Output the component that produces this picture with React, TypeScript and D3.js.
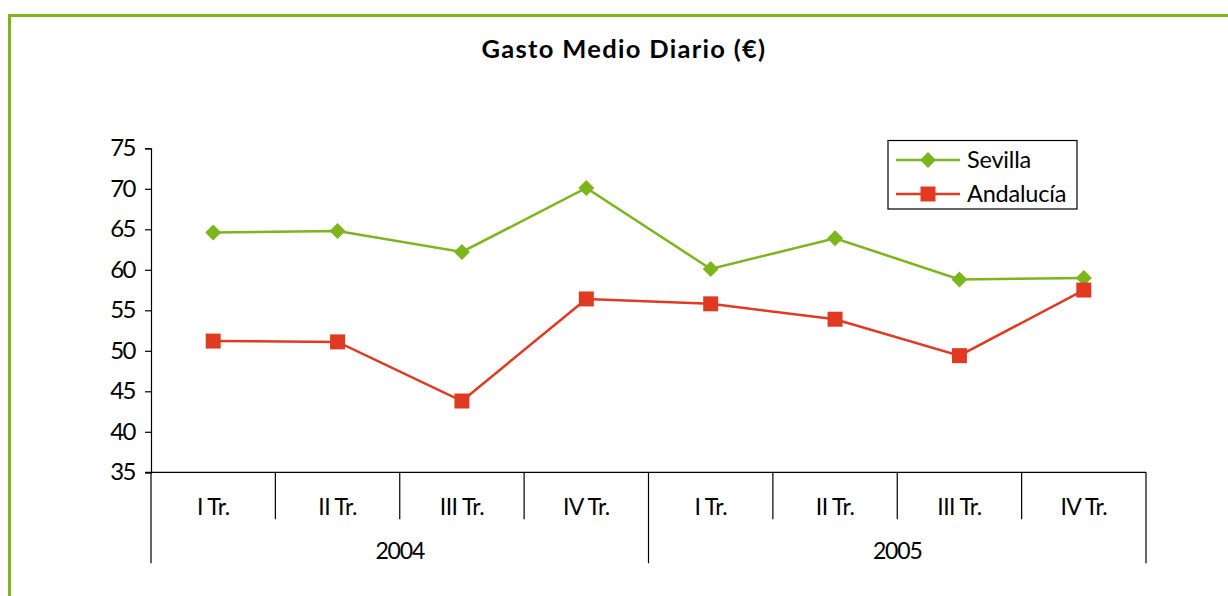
import React, { useRef, useEffect } from 'react';
import * as d3 from 'd3';

const quarters = ['I Tr.', 'II Tr.', 'III Tr.', 'IV Tr.', 'I Tr.', 'II Tr.', 'III Tr.', 'IV Tr.'];
const years = ['2004', '2005'];
const sevilla = [64.6, 64.8, 62.2, 70.1, 60.1, 63.9, 58.8, 59.0];
const andalucia = [51.2, 51.1, 43.8, 56.4, 55.8, 53.9, 49.4, 57.5];
const yTicks = [35, 40, 45, 50, 55, 60, 65, 70, 75];

const GREEN = '#7db51c';
const RED = '#e03b22';
const FONT = 'Lato, "Open Sans", sans-serif';

const App = () => {
  const svgRef = useRef<SVGSVGElement>(null);

  useEffect(() => {
    const svg = d3.select(svgRef.current);
    svg.selectAll('*').remove();

    const width = 1228;
    const height = 596;
    const left = 151, right = 1146, top = 148.3, bottom = 472.3;

    svg.attr('width', width).attr('height', height).style('font-family', FONT);

    // green frame (open to the right and bottom)
    svg.append('path')
      .attr('d', `M9.5,${height + 5} L9.5,15.5 L${width + 5},15.5`)
      .attr('fill', 'none')
      .attr('stroke', GREEN)
      .attr('stroke-width', 3);

    svg.append('text')
      .attr('x', 624)
      .attr('y', 58)
      .attr('text-anchor', 'middle')
      .attr('font-weight', 'bold')
      .attr('font-size', 25.5)
      .attr('letter-spacing', 1.3)
      .text('Gasto Medio Diario (€)');

    const idx = quarters.map((_, i) => i);
    const x = d3.scaleBand<number>().domain(idx).range([left, right]).padding(0);
    const xYear = d3.scaleBand<string>().domain(years).range([left, right]).padding(0);
    const y = d3.scaleLinear().domain([35, 75]).range([bottom, top]);

    // y axis
    const yAxis = d3.axisLeft(y).tickValues(yTicks).tickSize(6).tickPadding(10).tickFormat(d3.format('d'));
    const gy = svg.append('g').attr('transform', `translate(${left},0)`).call(yAxis);
    gy.select('.domain').attr('stroke', '#000').attr('stroke-width', 1.2);
    gy.selectAll('.tick line').attr('stroke', '#000').attr('stroke-width', 1.2);
    gy.selectAll('.tick text')
      .attr('font-size', 24)
      .attr('letter-spacing', -1.5)
      .attr('font-family', FONT)
      .attr('fill', '#000');

    // x axis line
    svg.append('line')
      .attr('x1', left - 6).attr('x2', right)
      .attr('y1', bottom).attr('y2', bottom)
      .attr('stroke', '#000').attr('stroke-width', 1.2);

    // quarter dividers
    const qDividers = idx.slice(1).filter((i) => i % 4 !== 0).map((i) => x(i)!);
    svg.selectAll('line.qdiv')
      .data(qDividers)
      .join('line')
      .attr('x1', (d) => d).attr('x2', (d) => d)
      .attr('y1', bottom).attr('y2', bottom + 47)
      .attr('stroke', '#000').attr('stroke-width', 1.2);

    // year dividers
    const yDividers = [...years.map((yr) => xYear(yr)!), right];
    svg.selectAll('line.ydiv')
      .data(yDividers)
      .join('line')
      .attr('x1', (d) => d).attr('x2', (d) => d)
      .attr('y1', bottom).attr('y2', bottom + 91)
      .attr('stroke', '#000').attr('stroke-width', 1.2);

    svg.selectAll('text.q')
      .data(quarters)
      .join('text')
      .attr('x', (_, i) => x(i)! + x.bandwidth() / 2)
      .attr('y', bottom + 43)
      .attr('text-anchor', 'middle')
      .attr('font-size', 23)
      .attr('letter-spacing', -0.6)
      .text((d) => d);

    svg.selectAll('text.yr')
      .data(years)
      .join('text')
      .attr('x', (d) => xYear(d)! + xYear.bandwidth() / 2)
      .attr('y', bottom + 87)
      .attr('text-anchor', 'middle')
      .attr('font-size', 23)
      .attr('letter-spacing', -1.2)
      .text((d) => d);

    const cx = (i: number) => x(i)! + x.bandwidth() / 2;
    const line = d3.line<number>().x((_, i) => cx(i)).y((d) => y(d));

    svg.append('path').datum(sevilla)
      .attr('fill', 'none').attr('stroke', GREEN).attr('stroke-width', 2.5).attr('d', line);
    svg.append('path').datum(andalucia)
      .attr('fill', 'none').attr('stroke', RED).attr('stroke-width', 2.5).attr('d', line);

    const diamond = d3.symbol().type(d3.symbolSquare).size(128);
    svg.selectAll('path.sev')
      .data(sevilla)
      .join('path')
      .attr('d', diamond)
      .attr('transform', (d, i) => `translate(${cx(i)},${y(d)}) rotate(45)`)
      .attr('fill', GREEN);

    const square = d3.symbol().type(d3.symbolSquare).size(225);
    svg.selectAll('path.and')
      .data(andalucia)
      .join('path')
      .attr('d', square)
      .attr('transform', (d, i) => `translate(${cx(i)},${y(d)})`)
      .attr('fill', RED);

    // legend
    const lg = svg.append('g');
    lg.append('rect')
      .attr('x', 888).attr('y', 140.5).attr('width', 189).attr('height', 68.5)
      .attr('fill', '#fff').attr('stroke', '#000').attr('stroke-width', 1.2);
    const items = [
      { name: 'Sevilla', color: GREEN, sym: diamond, rot: 45, yy: 160 },
      { name: 'Andalucía', color: RED, sym: square, rot: 0, yy: 194 },
    ];
    items.forEach((it) => {
      lg.append('line')
        .attr('x1', 896).attr('x2', 960).attr('y1', it.yy).attr('y2', it.yy)
        .attr('stroke', it.color).attr('stroke-width', 2.5);
      lg.append('path')
        .attr('d', it.sym)
        .attr('transform', `translate(928,${it.yy}) rotate(${it.rot})`)
        .attr('fill', it.color);
      lg.append('text')
        .attr('x', 967).attr('y', it.yy + 8)
        .attr('font-size', 23.5)
        .attr('letter-spacing', -0.2)
        .text(it.name);
    });
  }, []);

  return (
    <div style={{ position: 'absolute', left: 0, top: 0, background: '#fff' }}>
      <svg ref={svgRef} style={{ display: 'block' }}></svg>
    </div>
  );
};

export default App;
